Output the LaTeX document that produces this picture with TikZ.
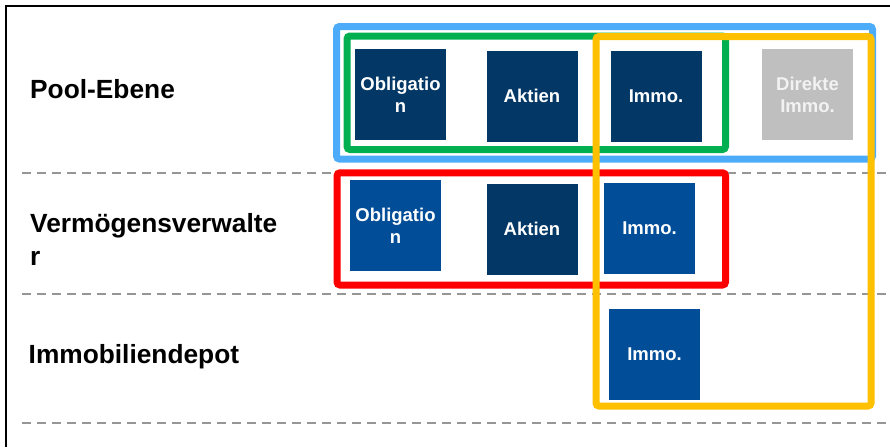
\documentclass[tikz,border=0pt]{standalone}
\usepackage{fontspec}
\setmainfont{Liberation Sans}
\definecolor{navy}{RGB}{3,56,102}
\definecolor{midblue}{RGB}{2,77,151}
\definecolor{greybox}{RGB}{191,191,191}
\definecolor{greytext}{RGB}{242,242,242}
\definecolor{frameblue}{RGB}{77,172,250}
\definecolor{framegreen}{RGB}{0,176,80}
\definecolor{framered}{RGB}{255,0,0}
\definecolor{frameyellow}{RGB}{255,192,0}
\definecolor{dashgrey}{RGB}{150,150,150}
\tikzset{
  asset/.style={rectangle, minimum width=91pt, minimum height=91pt, inner sep=0pt,
    text=white, align=center, font=\bfseries\fontsize{18.5}{22}\selectfont},
  darkasset/.style={asset, fill=navy},
  midasset/.style={asset, fill=midblue},
  greyasset/.style={asset, fill=greybox, text=greytext},
  levellabel/.style={inner sep=0pt, anchor=base west, align=left,
    font=\bfseries\fontsize{26.3}{33}\selectfont},
  groupframe/.style={line width=7pt, rounded corners=3pt},
  separator/.style={draw=dashgrey, line width=2pt, dash pattern=on 9pt off 6pt},
}
\begin{document}
\begin{tikzpicture}[x=1pt,y=-1pt]
\useasboundingbox (0,0) rectangle (890,447);
\fill[white] (0,0) rectangle (890,447);
% frame
\draw[black, line width=2.5pt] (6,447) -- (6,6) -- (890,6);
% separators
\coordinate (s1a) at (22,172.5); \coordinate (s1b) at (890,172.5);
\coordinate (s2a) at (22,293.5); \coordinate (s2b) at (890,293.5);
\coordinate (s3a) at (22,422.5); \coordinate (s3b) at (890,422.5);
\draw[separator] (s1a) -- (s1b);
\draw[separator] (s2a) -- (s2b);
\draw[separator] (s3a) -- (s3b);
% level labels
\node[levellabel] (lpool) at (30,98) {Pool-Ebene};
\node[levellabel] (lvv) at (30,265) {Vermögensverwalte\\r};
\node[levellabel] (limmo) at (28.5,363) {Immobiliendepot};
% row 1
\node[darkasset] (p1) at (400.5,94.5) {Obligatio\\n};
\node[darkasset] (p2) at (532,96.3) {Aktien};
\node[darkasset] (p3) at (656,96.3) {Immo.};
\node[greyasset] (p4) at (807.5,94.5) {Direkte\\Immo.};
% row 2
\node[midasset] (v1) at (395.5,225.5) {Obligatio\\n};
\node[darkasset] (v2) at (532,229.3) {Aktien};
\node[midasset] (v3) at (649.5,228.3) {Immo.};
% row 3
\node[midasset] (i1) at (654.5,354) {Immo.};
% group frames
\draw[groupframe, draw=frameblue] (336.5,26.5) rectangle (872.5,159);
\draw[groupframe, draw=framegreen] (347,36) rectangle (725.5,149.5);
\draw[groupframe, draw=framered] (337,172.8) rectangle (725.5,285);
\draw[groupframe, draw=frameyellow] (596,36.5) rectangle (871,406);
\end{tikzpicture}
\end{document}
